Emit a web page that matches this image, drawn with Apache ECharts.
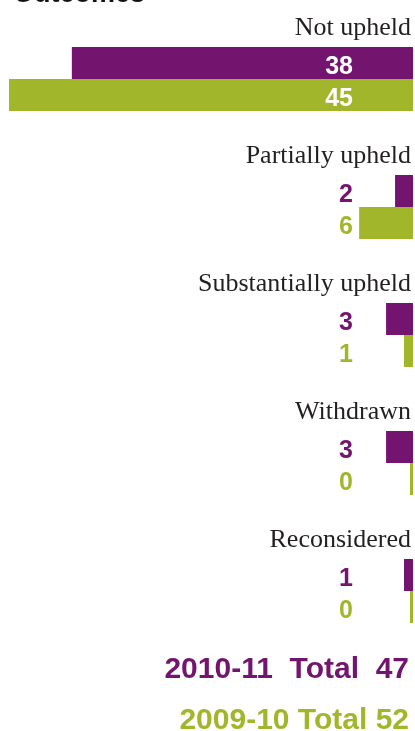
<!DOCTYPE html>
<html>
<head>
<meta charset="utf-8">
<script src="https://cdn.jsdelivr.net/npm/echarts@6/dist/echarts.min.js"></script>
<style>
  html, body { margin: 0; padding: 0; background: #ffffff; }
  #chart { width: 415px; height: 731px; }
</style>
</head>
<body>
<div id="chart"></div>
<script>
// Complaint outcomes, two reporting years
const categories = ['Not upheld', 'Partially upheld', 'Substantially upheld', 'Withdrawn', 'Reconsidered'];
const years = ['2010-11', '2009-10'];
const values2010 = [38, 2, 3, 3, 1];
const values2009 = [45, 6, 1, 0, 0];
const axisMax = 45;

const PURPLE = '#73146f';
const GREEN = '#a2b62c';
const INK = '#231f20';

const sum = arr => arr.reduce((a, b) => a + b, 0);

const SERIF = '"Liberation Serif", "Times New Roman", serif';
const SANS = '"Liberation Sans", Arial, Helvetica, sans-serif';

// Each year is drawn as one bar per category, growing leftward from the right edge.
// slot 0 sits just above the band centre, slot 1 just below it.
function makeRender(slot, color, drawCategory) {
  return function (params, api) {
    const idx = api.value(1);
    const val = api.value(0);
    const base = api.coord([0, idx]);
    const tip = api.coord([val, idx]);
    const band = api.size([0, 1])[1];
    const barH = band * 0.25;
    const y0 = slot === 0 ? base[1] - barH : base[1];
    const left = Math.min(tip[0], base[0] - 3);
    const width = base[0] - left;
    const labelRight = base[0] - 60;
    const inside = left < labelRight - 40;

    const children = [
      {
        type: 'rect',
        shape: { x: left, y: y0, width: width, height: barH },
        style: { fill: color }
      },
      {
        type: 'text',
        style: {
          text: String(val),
          x: labelRight,
          y: y0 + barH / 2 + 4,
          align: 'right',
          verticalAlign: 'middle',
          font: 'bold 25px ' + SANS,
          fill: inside ? '#ffffff' : color
        }
      }
    ];
    if (drawCategory) {
      children.push({
        type: 'text',
        style: {
          text: categories[idx],
          x: base[0] - 2,
          y: base[1] - barH - 19,
          align: 'right',
          verticalAlign: 'middle',
          font: '26px ' + SERIF,
          fill: INK
        }
      });
    }
    return { type: 'group', children: children };
  };
}

const chart = echarts.init(document.getElementById('chart'), null, { renderer: 'canvas' });

chart.setOption({
  animation: false,
  backgroundColor: '#ffffff',
  grid: { left: 9, right: 2, top: 15, height: 640 },
  xAxis: {
    type: 'value', min: 0, max: axisMax, inverse: true, show: false
  },
  yAxis: {
    type: 'category', data: categories, inverse: true, show: false
  },
  graphic: [
    {
      type: 'text',
      x: 13,
      y: -5,
      style: {
        text: 'Outcomes',
        x: 0,
        y: 0,
        font: 'bold 27px ' + SANS,
        fill: '#111111',
        verticalAlign: 'middle'
      }
    },
    {
      type: 'text',
      right: 6,
      top: 655,
      style: {
        text: years[0] + '  Total  ' + sum(values2010),
        font: 'bold 30px ' + SANS,
        fill: PURPLE
      }
    },
    {
      type: 'text',
      right: 6,
      top: 706,
      style: {
        text: years[1] + ' Total ' + sum(values2009),
        font: 'bold 30px ' + SANS,
        fill: GREEN
      }
    }
  ],
  series: [
    {
      name: years[0],
      type: 'custom',
      renderItem: makeRender(0, PURPLE, true),
      encode: { x: 0, y: 1 },
      data: values2010.map((v, i) => [v, i])
    },
    {
      name: years[1],
      type: 'custom',
      renderItem: makeRender(1, GREEN, false),
      encode: { x: 0, y: 1 },
      data: values2009.map((v, i) => [v, i])
    }
  ]
});
</script>
</body>
</html>
